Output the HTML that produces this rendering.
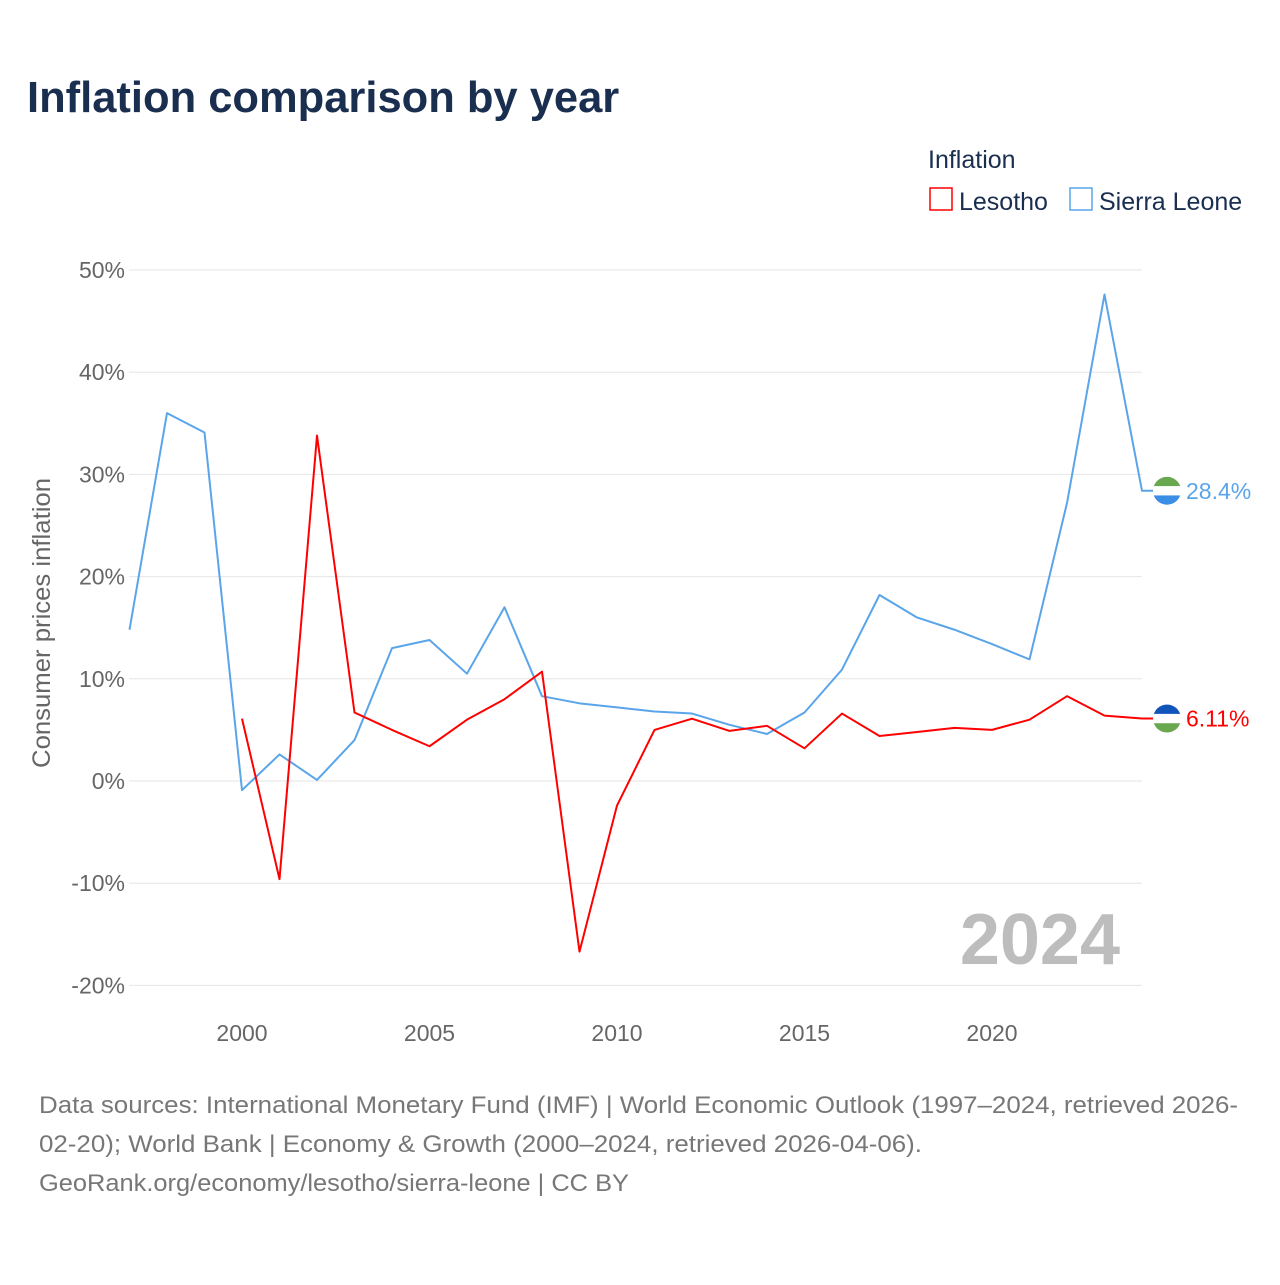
<!DOCTYPE html>
<html><head><meta charset="utf-8"><style>
body{margin:0;background:#fff;font-family:"Liberation Sans",sans-serif;}
</style></head><body>
<svg width="1280" height="1280" xmlns="http://www.w3.org/2000/svg" style="font-family:'Liberation Sans',sans-serif">
<text x="27" y="112" font-size="43.5" font-weight="bold" fill="#1a2e4f">Inflation comparison by year</text>
<text x="928" y="168" font-size="25" fill="#1a2e4f">Inflation</text>
<g><rect x="930" y="188" width="22" height="22" fill="none" stroke="#ff0000" stroke-width="1.5"/><text x="959" y="210" font-size="25" fill="#1a2e4f">Lesotho</text></g>
<g><rect x="1070" y="188" width="22" height="22" fill="none" stroke="#5aa5ea" stroke-width="1.5"/><text x="1099" y="210" font-size="25" fill="#1a2e4f">Sierra Leone</text></g>
<g id="grid"></g>
<g id="yt"></g>
<g id="xt"></g>
<text transform="translate(50,623) rotate(-90)" text-anchor="middle" font-size="25" fill="#666" textLength="290" lengthAdjust="spacingAndGlyphs">Consumer prices inflation</text>
<text x="1120" y="964" text-anchor="end" font-size="72" font-weight="bold" fill="#bdbdbd">2024</text>
<g id="series"></g>
<text x="39" y="1113" font-size="24" fill="#777" textLength="1199" lengthAdjust="spacingAndGlyphs">Data sources: International Monetary Fund (IMF) | World Economic Outlook (1997–2024, retrieved 2026-</text>
<text x="39" y="1152" font-size="24" fill="#777" textLength="883" lengthAdjust="spacingAndGlyphs">02-20); World Bank | Economy &amp; Growth (2000–2024, retrieved 2026-04-06).</text>
<text x="39" y="1191" font-size="24" fill="#777" textLength="590" lengthAdjust="spacingAndGlyphs">GeoRank.org/economy/lesotho/sierra-leone | CC BY</text>
</svg>
<script>
const yTicks=[50,40,30,20,10,0,-10,-20];
const xTicks=[2000,2005,2010,2015,2020];
const slYears=[1997,1998,1999,2000,2001,2002,2003,2004,2005,2006,2007,2008,2009,2010,2011,2012,2013,2014,2015,2016,2017,2018,2019,2020,2021,2022,2023,2024];
const slValues=[14.8,36.0,34.1,-0.9,2.6,0.1,4.0,13.0,13.8,10.5,17.0,8.3,7.6,7.2,6.8,6.6,5.5,4.6,6.7,10.9,18.2,16.0,14.8,13.4,11.9,27.2,47.6,28.4];
const lsYears=[2000,2001,2002,2003,2004,2005,2006,2007,2008,2009,2010,2011,2012,2013,2014,2015,2016,2017,2018,2019,2020,2021,2022,2023,2024];
const lsValues=[6.1,-9.6,33.8,6.7,5.0,3.4,6.0,8.0,10.7,-16.7,-2.4,5.0,6.1,4.9,5.4,3.2,6.6,4.4,4.8,5.2,5.0,6.0,8.3,6.4,6.11];
const NS="http://www.w3.org/2000/svg";
const X=y=>129.5+(y-1997)*37.5;
const Y=v=>781-v*10.22;
function mk(t,a,p){const e=document.createElementNS(NS,t);for(const k in a)e.setAttribute(k,a[k]);p.appendChild(e);return e;}
const grid=document.getElementById('grid'),yt=document.getElementById('yt'),xt=document.getElementById('xt'),S=document.getElementById('series');
yTicks.forEach(v=>{
 const l=mk('line',{x1:129,x2:1142,y1:Y(v),y2:Y(v),stroke:'#e6e6e6','stroke-width':1},grid);
 
 
 const t=mk('text',{x:125,y:Y(v)+8,'text-anchor':'end','font-size':23,fill:'#666'},yt);
 t.textContent=v+'%';
 
 
});
xTicks.forEach(y=>{
 const t=mk('text',{x:X(y),y:1041,'text-anchor':'middle','font-size':23,fill:'#666'},xt);
 t.textContent=y;
 
 
});
function line(ys,vs,c,name){
 const d=ys.map((y,i)=>(i?'L':'M')+X(y)+','+Y(vs[i])).join('')+'L1160,'+Y(vs[vs.length-1]);
 const p=mk('path',{d:d,fill:'none',stroke:c,'stroke-width':2,'stroke-linejoin':'round'},S);
 
 
}
line(slYears,slValues,'#5aa5ea','line-sierra-leone');
line(lsYears,lsValues,'#ff0000','line-lesotho');
function flag(v,cols,lab,c,name){
 const cy=Y(v),g=mk('g',{},S);
 
 
 mk('clipPath',{id:'c'+name},g);
 mk('circle',{cx:1167,cy:cy,r:14},document.getElementById('c'+name));
 const h=28/3;
 cols.forEach((col,i)=>mk('rect',{x:1153,y:cy-14+i*h,width:28,height:h+0.5,fill:col,'clip-path':'url(#c'+name+')'},g));
 const t=mk('text',{x:1186,y:cy+8,'font-size':23,fill:c},g);t.textContent=lab;
}
flag(slValues[slValues.length-1],['#6aa84f','#ffffff','#3a8ee6'],slValues[slValues.length-1]+'%','#5aa5ea','end-label-sierra-leone');
flag(lsValues[lsValues.length-1],['#1155bb','#ffffff','#6aa84f'],lsValues[lsValues.length-1]+'%','#ff0000','end-label-lesotho');
</script>
</body></html>
